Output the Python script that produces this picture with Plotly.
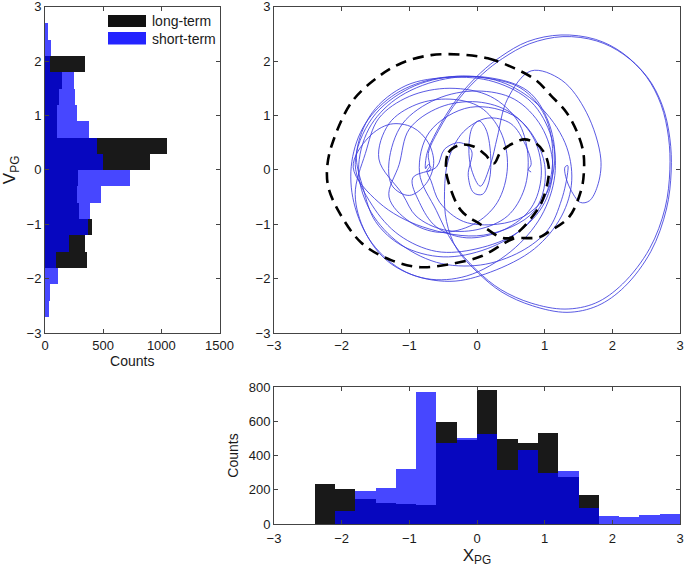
import plotly.graph_objects as go

# ---------------- data ----------------
# bottom histogram (X_PG), bin centres (width 0.3)
x_bins_long = [-2.25, -1.95, -1.65, -1.35, -1.05, -0.75, -0.45, -0.15, 0.15, 0.45, 0.75, 1.05, 1.35, 1.65]
x_counts_long = [235, 205, 145, 125, 118, 113, 595, 490, 785, 495, 475, 530, 275, 170]
x_bins_short = [-1.95, -1.65, -1.35, -1.05, -0.75, -0.45, -0.15, 0.15, 0.45, 0.75, 1.05, 1.35, 1.65, 1.95, 2.25, 2.55, 2.85]
x_counts_short = [75, 190, 210, 320, 770, 475, 505, 525, 315, 435, 300, 310, 95, 45, 38, 55, 58]

# left histogram (V_PG), bin centres (width 0.3)
v_bins_long = [1.95, 1.65, 1.35, 1.05, 0.75, 0.45, 0.15, -0.15, -0.45, -0.75, -1.05, -1.35, -1.65]
v_counts_long = [340, 145, 120, 105, 100, 1045, 900, 285, 275, 295, 400, 345, 365]
v_bins_short = [2.55, 2.25, 1.95, 1.65, 1.35, 1.05, 0.75, 0.45, 0.15, -0.15, -0.45, -0.75, -1.05,
                -1.35, -1.65, -1.95, -2.25, -2.55]
v_counts_short = [30, 55, 40, 245, 255, 275, 380, 450, 500, 730, 480, 385, 370, 210, 95, 110, 40, 37]

# long-term orbit (dashed), outer and inner loops
long_outer_x = [-0.24, 0.16, 0.55, 0.87, 1.09, 1.32, 1.48, 1.57, 1.58, 1.54, 1.36, 1.06, 0.92, 0.53, 0.35,
                0.06, -0.34, -0.83, -1.27, -1.71, -2.05, -2.20, -2.21, -2.12, -1.85, -1.46, -1.12, -0.68, -0.24]
long_outer_y = [2.12, 2.05, 1.87, 1.65, 1.37, 1.06, 0.69, 0.33, -0.04, -0.37, -0.87, -1.14, -1.24, -1.27, -1.39,
                -1.59, -1.72, -1.79, -1.66, -1.34, -0.75, -0.30, 0.10, 0.55, 1.25, 1.71, 1.96, 2.11, 2.12]
long_inner_x = [-0.46, -0.42, -0.25, -0.05, 0.12, 0.25, 0.35, 0.52, 0.7, 0.88, 1.0, 1.06, 1.05, 0.95, 0.8,
                0.65, 0.5, 0.35, 0.06, -0.24, -0.43, -0.46]
long_inner_y = [0.05, 0.32, 0.46, 0.43, 0.28, 0.12, 0.33, 0.48, 0.56, 0.48, 0.3, 0.05, -0.19, -0.61, -0.89,
                -1.1, -1.25, -1.24, -1.01, -0.74, -0.19, 0.05]

# short-term trajectory (thin blue) as (x, y) waypoints
short_pts = [
    # small spiral at left, then first large excursion
    (-0.72, -0.04), (-0.68, 0.04), (-0.72, 0.10), (-0.76, 0.02), (-0.74, 0.30), (-0.60, 0.70), (-0.30, 1.30),
    (0.05, 1.78), (0.35, 2.08), (0.75, 2.36), (1.24, 2.48), (1.75, 2.40), (2.15, 2.15), (2.50, 1.72),
    (2.72, 1.20), (2.83, 0.60), (2.85, 0.00), (2.78, -0.70), (2.55, -1.45), (2.15, -2.10), (1.75, -2.45),
    (1.30, -2.56), (0.80, -2.45), (0.35, -2.20), (0.00, -1.85), (-0.35, -1.35), (-0.60, -0.75),
    # loop 1
    (-0.85, -0.05), (-0.70, 0.70), (-0.10, 1.15), (0.60, 0.95), (1.00, 0.10), (0.85, -0.75), (0.10, -1.20),
    (-0.80, -1.05), (-1.45, -0.60),
    # left lens
    (-1.83, 0.05), (-1.60, 0.60), (-1.28, 0.84), (-0.95, 0.78), (-0.72, 0.50), (-0.64, 0.12), (-0.75, -0.25),
    (-1.00, -0.47), (-1.25, -0.30),
    # loop 3
    (-1.30, 0.15), (-1.10, 0.85), (-0.60, 1.30), (0.00, 1.45), (0.55, 1.30), (0.95, 0.80), (1.12, 0.10),
    (1.00, -0.60), (0.60, -1.15), (0.00, -1.45), (-0.60, -1.50), (-1.15, -1.20), (-1.55, -0.65),
    # loop 4
    (-1.80, 0.10), (-1.55, 0.95), (-1.00, 1.50), (-0.30, 1.72), (0.35, 1.62), (0.90, 1.20), (1.30, 0.50),
    (1.40, -0.20), (1.25, -0.85), (0.85, -1.45), (0.20, -1.88), (-0.40, -2.05), (-1.05, -1.88),
    (-1.55, -1.35), (-1.82, -0.60),
    # loop 5
    (-1.85, 0.15), (-1.65, 0.85), (-1.20, 1.40), (-0.60, 1.68), (0.05, 1.70), (0.65, 1.50), (1.00, 1.00),
    (1.12, 0.30), (1.02, -0.45), (0.70, -1.05), (0.15, -1.45), (-0.50, -1.60), (-1.10, -1.40),
    (-1.50, -0.95), (-1.68, -0.35),
    # loop 5b
    (-1.78, 0.30), (-1.55, 1.05), (-1.05, 1.55), (-0.40, 1.70), (0.25, 1.62), (0.80, 1.25), (1.10, 0.60),
    (1.15, -0.10), (0.95, -0.85), (0.50, -1.50), (-0.15, -1.95), (-0.75, -2.00), (-1.30, -1.70),
    (-1.65, -1.15), (-1.80, -0.45),
    # loop 6
    (-1.65, 0.30), (-1.45, 0.95), (-1.00, 1.35), (-0.40, 1.50), (0.20, 1.35), (0.60, 0.90), (0.75, 0.30),
    (0.70, -0.35), (0.45, -0.85), (0.00, -1.10), (-0.50, -1.10), (-0.90, -0.85), (-1.10, -0.45),
    # loop 6b
    (-1.45, 0.20), (-1.30, 0.85), (-0.90, 1.20), (-0.40, 1.30), (0.05, 1.15), (0.35, 0.70), (0.45, 0.05),
    (0.30, -0.60), (-0.05, -1.00), (-0.55, -1.15), (-1.00, -0.95), (-1.30, -0.50),
    # loop 7
    (-1.15, 0.10), (-1.00, 0.75), (-0.55, 1.15), (0.00, 1.25), (0.50, 1.05), (0.85, 0.55), (0.95, -0.10),
    (0.80, -0.70), (0.40, -1.10), (-0.15, -1.25), (-0.60, -1.05), (-0.85, -0.60), (-0.95, -0.15),
    # hump and narrow central ellipse
    (-0.60, 0.05), (-0.48, 0.38), (-0.25, 0.50), (-0.08, 0.35), (-0.13, -0.10), (-0.05, -0.42),
    (0.08, -0.45), (0.18, -0.20), (0.20, 0.30), (0.13, 0.75), (0.03, 0.90), (-0.07, 0.78), (-0.12, 0.40),
    (-0.08, 0.00), (0.05, -0.30), (0.20, 0.10),
    # loop with curl at the right
    (0.30, 0.60), (0.45, 1.30), (0.80, 1.82), (1.25, 1.65), (1.62, 1.05), (1.83, 0.20), (1.78, -0.30),
    (1.66, -0.57), (1.53, -0.60), (1.40, -0.40), (1.31, -0.12), (1.30, 0.05), (1.34, 0.08), (1.34, -0.05),
    (1.25, -0.55), (1.05, -1.10), (0.65, -1.50), (0.05, -1.75), (-0.60, -1.70), (-1.20, -1.30),
    (-1.60, -0.70), (-1.75, 0.00), (-1.60, 0.75), (-1.20, 1.30), (-0.55, 1.65), (0.15, 1.70), (0.75, 1.45),
    (1.05, 0.90), (1.15, 0.20), (1.00, -0.50), (0.70, -0.85), (0.30, -1.00), (-0.20, -0.95), (-0.55, -0.60),
    (-0.68, -0.20),
    # second small spiral and second large excursion
    (-0.74, -0.02), (-0.70, 0.06), (-0.72, 0.30), (-0.57, 0.72), (-0.27, 1.30), (0.08, 1.76), (0.38, 2.05),
    (0.78, 2.32), (1.27, 2.45), (1.77, 2.37), (2.17, 2.12), (2.52, 1.70), (2.74, 1.18), (2.85, 0.58),
    (2.87, -0.02), (2.80, -0.72), (2.57, -1.50), (2.18, -2.15), (1.78, -2.50), (1.33, -2.62), (0.82, -2.50),
    (0.37, -2.25), (0.02, -1.90), (-0.30, -1.45), (-0.45, -0.95),
    # final inner loop
    (-0.48, -0.40), (-0.42, 0.20), (-0.20, 0.70), (0.15, 0.95), (0.50, 0.85), (0.72, 0.45), (0.80, 0.10),
    (0.76, 0.00), (0.80, -0.04),
]
short_x = [p[0] for p in short_pts]
short_y = [p[1] for p in short_pts]

# ---------------- styles ----------------
W, H = 685, 568
BLACK = "rgba(0,0,0,0.9)"
BLUE = "rgba(0,0,255,0.72)"
FONT = "Liberation Sans, Arial, sans-serif"
AX = "#444444"


def px(xp):
    return xp / W


def py(yp):
    return 1 - yp / H


fig = go.Figure()

# left histogram
fig.add_trace(go.Bar(y=v_bins_long, x=v_counts_long, orientation="h", width=0.3,
                     marker=dict(color=BLACK, line=dict(width=0)), xaxis="x", yaxis="y",
                     showlegend=False))
fig.add_trace(go.Bar(y=v_bins_short, x=v_counts_short, orientation="h", width=0.3,
                     marker=dict(color=BLUE, line=dict(width=0)), xaxis="x", yaxis="y",
                     showlegend=False))

# phase plot
fig.add_trace(go.Scatter(x=short_x, y=short_y, mode="lines",
                         line=dict(color="#3c3cde", width=0.85, shape="spline", smoothing=1.0),
                         xaxis="x2", yaxis="y2", showlegend=False))
fig.add_trace(go.Scatter(x=long_outer_x, y=long_outer_y, mode="lines",
                         line=dict(color="black", width=2.6, dash="11px,7px", shape="spline"),
                         xaxis="x2", yaxis="y2", showlegend=False))
fig.add_trace(go.Scatter(x=long_inner_x, y=long_inner_y, mode="lines",
                         line=dict(color="black", width=2.6, dash="11px,7px", shape="spline"),
                         xaxis="x2", yaxis="y2", showlegend=False))

# bottom histogram
fig.add_trace(go.Bar(x=x_bins_long, y=x_counts_long, width=0.3,
                     marker=dict(color=BLACK, line=dict(width=0)), xaxis="x3", yaxis="y3",
                     showlegend=False))
fig.add_trace(go.Bar(x=x_bins_short, y=x_counts_short, width=0.3,
                     marker=dict(color=BLUE, line=dict(width=0)), xaxis="x3", yaxis="y3",
                     showlegend=False))

common = dict(showline=True, linecolor=AX, linewidth=1, mirror="ticks", ticks="inside",
              ticklen=4, tickcolor=AX, showgrid=False, zeroline=False, automargin=False,
              ticklabeloverflow="allow",
              tickfont=dict(family=FONT, size=13, color="#1a1a1a"), fixedrange=True)

fig.update_layout(
    width=W, height=H, margin=dict(l=0, r=0, t=0, b=0),
    paper_bgcolor="white", plot_bgcolor="white",
    barmode="overlay", bargap=0,
    font=dict(family=FONT, color="#1a1a1a"),
    xaxis=dict(domain=[px(45), px(219.5)], range=[0, 1500], tickvals=[0, 500, 1000, 1500],
               anchor="y", title=dict(text="Counts", font=dict(size=14), standoff=4), **common),
    yaxis=dict(domain=[py(333), py(6.7)], range=[-3, 3], tickvals=[-3, -2, -1, 0, 1, 2, 3],
               anchor="x", title=dict(text="V<sub>PG</sub>", font=dict(size=17), standoff=6), **common),
    xaxis2=dict(domain=[px(274), px(680)], range=[-3, 3], tickvals=[-3, -2, -1, 0, 1, 2, 3],
                anchor="y2", **common),
    yaxis2=dict(domain=[py(333), py(6.7)], range=[-3, 3], tickvals=[-3, -2, -1, 0, 1, 2, 3],
                anchor="x2", **common),
    xaxis3=dict(domain=[px(274), px(680)], range=[-3, 3], tickvals=[-3, -2, -1, 0, 1, 2, 3],
                anchor="y3", ticklabelstandoff=2,
                title=dict(text="X<sub>PG</sub>", font=dict(size=17), standoff=1), **common),
    yaxis3=dict(domain=[py(524), py(387)], range=[0, 800], tickvals=[0, 200, 400, 600, 800],
                anchor="x3", title=dict(text="Counts", font=dict(size=14), standoff=6), **common),
)

# legend (manual)
fig.add_shape(type="rect", xref="paper", yref="paper", x0=px(108), x1=px(146), y0=py(27), y1=py(15),
              fillcolor="#111111", line=dict(width=0))
fig.add_shape(type="rect", xref="paper", yref="paper", x0=px(108), x1=px(146), y0=py(44.5), y1=py(32),
              fillcolor="#2424ff", line=dict(width=0))
fig.add_annotation(xref="paper", yref="paper", x=px(150), y=py(21), text="long-term", showarrow=False,
                   xanchor="left", yanchor="middle", font=dict(family=FONT, size=14, color="#1a1a1a"))
fig.add_annotation(xref="paper", yref="paper", x=px(150), y=py(38.5), text="short-term", showarrow=False,
                   xanchor="left", yanchor="middle", font=dict(family=FONT, size=14, color="#1a1a1a"))

fig.write_html("out.html", config={"displayModeBar": False},
               post_script="document.body.style.margin='0';document.body.style.overflow='hidden';")
